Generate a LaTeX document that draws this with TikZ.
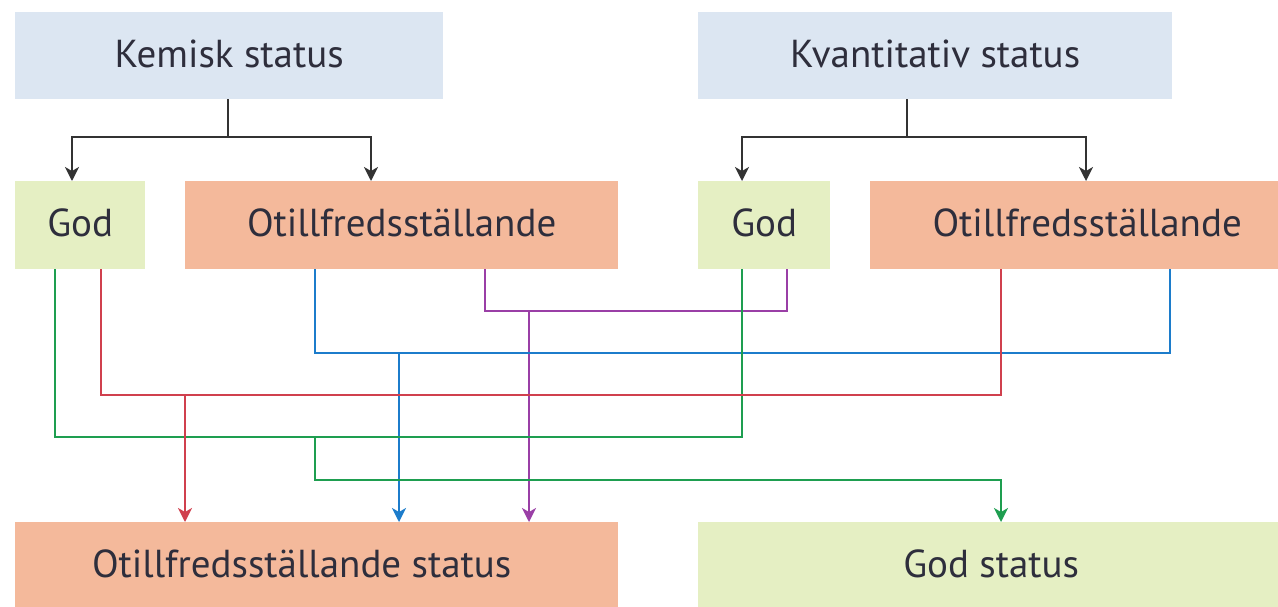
\documentclass[tikz,border=0pt]{standalone}
\usepackage{fontspec}
\setmainfont{PT Sans}
\usetikzlibrary{arrows.meta}
\definecolor{bluebox}{HTML}{DCE6F2}
\definecolor{greenbox}{HTML}{E5EFC3}
\definecolor{salmon}{HTML}{F4B99B}
\definecolor{txt}{HTML}{2E2E3C}
\definecolor{lblack}{HTML}{333333}
\definecolor{lgreen}{HTML}{1E9E50}
\definecolor{lred}{HTML}{D0404E}
\definecolor{lblue}{HTML}{1C7CCB}
\definecolor{lpurple}{HTML}{9A3FA6}
\newcommand{\boxtxt}[1]{\raisebox{5pt}{#1}}
\tikzset{
  box/.style={anchor=north west, inner sep=0pt, text=txt, font=\fontsize{39}{44}\selectfont},
  conn/.style={line width=2pt},
  arr/.style={-{Stealth[length=14pt,width=14pt,inset=4pt]}},
}
\begin{document}
\begin{tikzpicture}[x=1pt,y=-1pt]
\useasboundingbox (0,0) rectangle (1278,606);
\clip (0,0) rectangle (1278,606);
% boxes
\node[box,fill=bluebox] (kem) at (15,12) [minimum width=428pt, minimum height=87pt] {\boxtxt{Kemisk status}};
\node[box,fill=bluebox] (kva) at (698,12) [minimum width=474pt, minimum height=87pt] {\boxtxt{Kvantitativ status}};
\node[box,fill=greenbox] (godL) at (15,181) [minimum width=130pt, minimum height=88pt] {\boxtxt{God}};
\node[box,fill=salmon] (otL) at (185,181) [minimum width=433pt, minimum height=88pt] {\boxtxt{Otillfredsställande}};
\node[box,fill=greenbox] (godR) at (698,181) [minimum width=132pt, minimum height=88pt] {\boxtxt{God}};
\node[box,fill=salmon] (otR) at (870,181) [minimum width=434pt, minimum height=88pt] {\boxtxt{Otillfredsställande}};
\node[box,fill=salmon] (otS) at (15,522) [minimum width=603pt, minimum height=87pt] {\boxtxt{Otillfredsställande status\hspace{30pt}}};
\node[box,fill=greenbox] (godS) at (698,522) [minimum width=586pt, minimum height=87pt] {\boxtxt{God status}};
% columns and rows
\coordinate (k1) at (72,0);  \coordinate (k2) at (371,0);
\coordinate (v1) at (742,0); \coordinate (v2) at (1086,0);
\coordinate (ky) at (0,137);
\coordinate (kx) at (228,0); \coordinate (vx) at (907,0);
\coordinate (gA) at (55,0);  \coordinate (gB) at (742,0);
\coordinate (gC) at (315,0); \coordinate (gD) at (1001,0);
\coordinate (rA) at (101,0); \coordinate (rB) at (1001,0); \coordinate (rC) at (185,0);
\coordinate (bA) at (315,0); \coordinate (bB) at (1170,0); \coordinate (bC) at (399,0);
\coordinate (pA) at (485,0); \coordinate (pB) at (787,0);  \coordinate (pC) at (529,0);
\coordinate (yP) at (0,311); \coordinate (yB) at (0,353); \coordinate (yR) at (0,395);
\coordinate (yG) at (0,437); \coordinate (yG2) at (0,480);
% black
\draw[conn,lblack,arr] (kem.south -| kx) -- (ky -| kx) -| (godL.north -| k1);
\draw[conn,lblack,arr] (ky -| kx) -| (otL.north -| k2);
\draw[conn,lblack,arr] (kva.south -| vx) -- (ky -| vx) -| (godR.north -| v1);
\draw[conn,lblack,arr] (ky -| vx) -| (otR.north -| v2);
% purple
\draw[conn,lpurple] (otL.south -| pA) |- (yP -| pB) -- (godR.south -| pB);
\draw[conn,lpurple,arr] (yP -| pC) -- (otS.north -| pC);
% blue
\draw[conn,lblue] (otL.south -| bA) |- (yB -| bB) -- (otR.south -| bB);
\draw[conn,lblue,arr] (yB -| bC) -- (otS.north -| bC);
% green
\draw[conn,lgreen] (godL.south -| gA) |- (yG -| gB) -- (godR.south -| gB);
\draw[conn,lgreen,arr] (yG -| gC) |- (yG2 -| gD) -- (godS.north -| gD);
% red
\draw[conn,lred] (godL.south -| rA) |- (yR -| rB) -- (otR.south -| rB);
\draw[conn,lred,arr] (yR -| rC) -- (otS.north -| rC);
\end{tikzpicture}
\end{document}
